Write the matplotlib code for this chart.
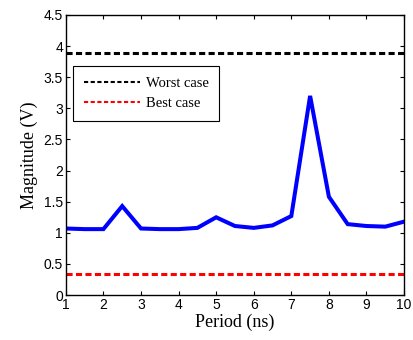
import matplotlib
matplotlib.use("Agg")
import matplotlib.pyplot as plt
from matplotlib.lines import Line2D

period = [1, 1.5, 2, 2.5, 3, 3.5, 4, 4.5, 5, 5.5, 6, 6.5, 7, 7.5, 8, 8.5, 9, 9.5, 10]
magnitude = [1.07, 1.06, 1.06, 1.43, 1.07, 1.06, 1.06, 1.08, 1.25, 1.11, 1.08, 1.12, 1.27, 3.20, 1.58, 1.14, 1.11, 1.10, 1.18]
worst_case = 3.89
best_case = 0.34
xticks = [1, 2, 3, 4, 5, 6, 7, 8, 9, 10]
yticks = [0, 0.5, 1, 1.5, 2, 2.5, 3, 3.5, 4, 4.5]
ytick_labels = ["0", "0.5", "1", "1.5", "2", "2.5", "3", "3.5", "4", "4.5"]

fig = plt.figure(figsize=(4.14, 3.40), dpi=100)
ax = fig.add_axes([0.159, 0.132, 0.817, 0.824])

ax.plot(period, magnitude, color="#0000ff", lw=2.9, solid_joinstyle="miter")
ax.axhline(worst_case, color="black", lw=2.2, dashes=(2, 1.1))
ax.axhline(best_case, color="#ff0000", lw=2.2, dashes=(2, 1.1))

ax.set_xlim(1, 10)
ax.set_ylim(0, 4.5)
ax.set_xticks(xticks)
ax.set_xticklabels([str(t) for t in xticks], family="Liberation Sans", fontsize=10)
ax.set_yticks(yticks)
ax.set_yticklabels(ytick_labels, family="Liberation Sans", fontsize=10)
ax.tick_params(direction="in", top=True, right=True, length=3, width=0.8, pad=2)
for s in ax.spines.values():
    s.set_linewidth(1.0)

ax.set_xlabel("Period (ns)", family="Liberation Serif", fontsize=13, labelpad=1)
ax.set_ylabel("Magnitude (V)", family="Liberation Serif", fontsize=13, labelpad=4)

handles = [Line2D([], [], color="black", lw=1.5, dashes=(2, 1.2)),
           Line2D([], [], color="#ff0000", lw=1.5, dashes=(2, 1.2))]
leg = ax.legend(handles, ["Worst case", "Best case"], loc="upper left",
                bbox_to_anchor=(0.02, 0.818), borderaxespad=0,
                prop={"family": "Liberation Serif", "size": 10.5},
                handlelength=3.9, handletextpad=0.35, fancybox=False,
                edgecolor="black", framealpha=1, borderpad=0.75, labelspacing=0.45)
leg.get_frame().set_linewidth(0.8)

fig.savefig("out.png", dpi=100)
